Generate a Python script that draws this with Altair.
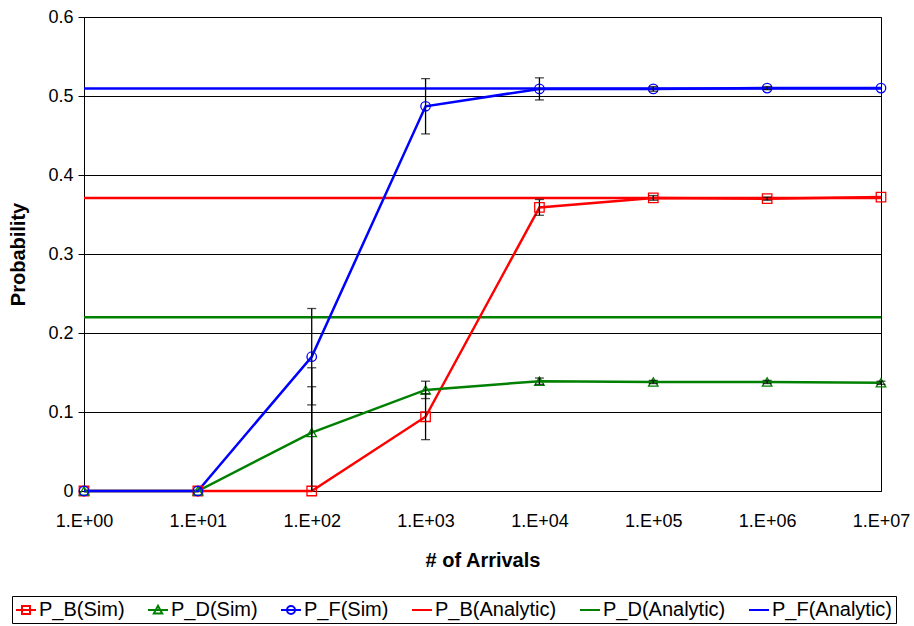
import altair as alt
import pandas as pd

# Number of arrivals (log axis)
arrivals = [1, 10, 100, 1000, 10000, 100000, 1000000, 10000000]

# Simulated probabilities
pb_sim = [0.0, 0.0, 0.0, 0.094, 0.359, 0.371, 0.370, 0.372]
pd_sim = [0.0, 0.0, 0.074, 0.128, 0.139, 0.138, 0.138, 0.137]
pf_sim = [0.0, 0.0, 0.170, 0.487, 0.509, 0.509, 0.510, 0.510]

# Half-width of the confidence intervals
pb_err = [0.0, 0.0, 0.132, 0.029, 0.010, 0.003, 0.002, 0.0]
pd_err = [0.0, 0.0, 0.082, 0.011, 0.004, 0.002, 0.002, 0.002]
pf_err = [0.0, 0.0, 0.061, 0.035, 0.014, 0.003, 0.002, 0.0]

# Analytic values
pb_analytic = 0.371
pd_analytic = 0.220
pf_analytic = 0.5095

series_names = ["P_B(Sim)", "P_D(Sim)", "P_F(Sim)",
                "P_B(Analytic)", "P_D(Analytic)", "P_F(Analytic)"]
series_colors = ["#FF0000", "#008000", "#0000FF",
                 "#FF0000", "#008000", "#0000FF"]
marker_shapes = ["square", "triangle-up", "circle"]

# Legend glyphs: a line segment with the series marker on it
legend_glyphs = [
    "M-1,0H1M-0.4,-0.4H0.4V0.4H-0.4Z",
    "M-1,0H1M0,-0.42L0.42,0.36H-0.42Z",
    "M-1,0H1M0.4,0A0.4,0.4,0,1,1,-0.4,0A0.4,0.4,0,1,1,0.4,0",
    "M-1,0H1",
    "M-1,0H1",
    "M-1,0H1",
]

sim_rows = []
for name, vals, errs in zip(series_names[:3],
                            [pb_sim, pd_sim, pf_sim],
                            [pb_err, pd_err, pf_err]):
    for x, v, e in zip(arrivals, vals, errs):
        sim_rows.append({
            "x": x, "value": v, "series": name, "err": e,
            "hi": v + e, "lo": max(v - e, 0.0),
            "lo_cap": (v - e) if v - e >= 0 else None,
        })
sim = pd.DataFrame(sim_rows)

ana_rows = []
for name, v in zip(series_names[3:], [pb_analytic, pd_analytic, pf_analytic]):
    for x in (arrivals[0], arrivals[-1]):
        ana_rows.append({"x": x, "value": v, "series": name})
ana = pd.DataFrame(ana_rows)

both = pd.concat([sim[["x", "value", "series"]], ana], ignore_index=True)
bars = sim[sim["err"] > 0]

x_enc = alt.X(
    "x:Q",
    scale=alt.Scale(type="log", domain=[1, 10000000], nice=False),
    axis=alt.Axis(
        values=arrivals,
        labelExpr="'1.E+0' + round(log(datum.value) / LN10)",
        labelFlush=False,
        title="# of Arrivals",
        grid=False, ticks=False,
        labelFontSize=18, labelPadding=21, labelColor="black",
        labelFont="Liberation Sans",
        titleFontSize=20, titleFont="Liberation Sans", titleFontWeight="bold",
        titlePadding=20, titleColor="black",
        domainColor="black", domainWidth=1,
    ),
)
y_scale = alt.Scale(domain=[0, 0.6], nice=False)
y_enc = alt.Y(
    "value:Q",
    scale=y_scale,
    axis=alt.Axis(
        values=[0, 0.1, 0.2, 0.3, 0.4, 0.5, 0.6],
        format="~g",
        title="Probability",
        grid=True, gridColor="black", gridWidth=1,
        tickSize=6, tickColor="black",
        labelFontSize=18, labelPadding=5, labelColor="black",
        labelFont="Liberation Sans",
        titleFontSize=20, titleFont="Liberation Sans", titleFontWeight="bold",
        titlePadding=19, titleColor="black",
        domainColor="black", domainWidth=1,
    ),
)

color_scale = alt.Scale(domain=series_names, range=series_colors)

# Invisible layer that only carries the legend (color + glyph per series)
legend_layer = alt.Chart(both).mark_point(opacity=0, filled=False).encode(
    x=x_enc, y=y_enc,
    color=alt.Color("series:N", scale=color_scale, title=None,
                    legend=alt.Legend(
                        orient="none", legendX=-72, legendY=579,
                        direction="horizontal", columns=6,
                        symbolSize=400, symbolStrokeWidth=2,
                        symbolOpacity=1, symbolFillColor="transparent",
                        labelFontSize=20, labelFont="Liberation Sans",
                        labelColor="black", labelOffset=2,
                        columnPadding=19, padding=3,
                        strokeColor="black", fillColor="white",
                    )),
    shape=alt.Shape("series:N", title=None,
                    scale=alt.Scale(domain=series_names, range=legend_glyphs)),
)

analytic_lines = alt.Chart(ana).mark_line(strokeWidth=2.5).encode(
    x=x_enc, y=y_enc,
    color=alt.Color("series:N", scale=color_scale, legend=None),
    detail="series:N",
)

sim_lines = alt.Chart(sim).mark_line(strokeWidth=2.5).encode(
    x=x_enc, y=y_enc,
    color=alt.Color("series:N", scale=color_scale, legend=None),
    detail="series:N",
)

# Hollow markers, one layer per simulated series
marker_layers = [
    alt.Chart(sim).transform_filter(alt.datum.series == name).mark_point(
        shape=shape, filled=False, size=90, strokeWidth=1.3, opacity=1,
    ).encode(
        x=x_enc, y=y_enc,
        color=alt.Color("series:N", scale=color_scale, legend=None),
    )
    for name, shape in zip(series_names[:3], marker_shapes)
]

err_rules = alt.Chart(bars).mark_rule(color="black", strokeWidth=1.3).encode(
    x=x_enc,
    y=alt.Y("lo:Q", scale=y_scale),
    y2="hi:Q",
)
err_caps_hi = alt.Chart(bars).mark_tick(color="black", orient="horizontal",
                                        size=9, thickness=1.3).encode(
    x=x_enc, y=alt.Y("hi:Q", scale=y_scale),
)
err_caps_lo = alt.Chart(bars).transform_filter("datum.lo_cap != null").mark_tick(
    color="black", orient="horizontal", size=9, thickness=1.3).encode(
    x=x_enc, y=alt.Y("lo_cap:Q", scale=y_scale),
)

chart = alt.layer(
    legend_layer, analytic_lines, sim_lines, *marker_layers,
    err_rules, err_caps_hi, err_caps_lo,
).properties(
    width=797, height=474,
    autosize=alt.AutoSizeParams(type="none"),
    padding={"left": 84, "top": 17, "right": 33, "bottom": 135},
    background="white",
).configure_view(stroke="black", strokeWidth=1)

chart.save("out.html", embed_options={"renderer": "svg", "actions": False})
